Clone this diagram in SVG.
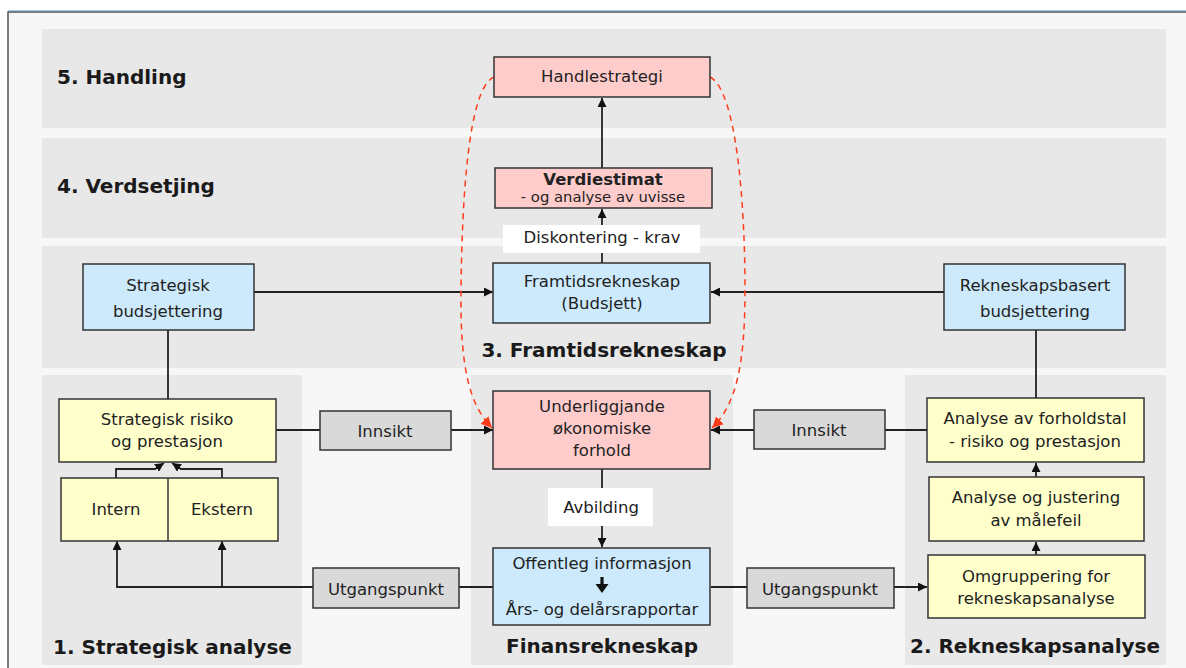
<svg xmlns="http://www.w3.org/2000/svg" width="1186" height="668" viewBox="0 0 1186 668">
<defs>
<style>
.band{fill:#e8e8e8}
.hd{font-family:"DejaVu Sans","Liberation Sans",sans-serif;font-weight:bold;font-size:20px;fill:#1a1a1a}
.t{font-family:"DejaVu Sans","Liberation Sans",sans-serif;font-size:16.5px;fill:#222;text-anchor:middle}
.pink{fill:#ffcccc;stroke:#333;stroke-width:1.5}
.blue{fill:#cceafb;stroke:#333;stroke-width:1.5}
.yel{fill:#ffffcc;stroke:#333;stroke-width:1.5}
.gray{fill:#d9d9d9;stroke:#333;stroke-width:1.5}
.lbl{fill:#ffffff}
.c{fill:none;stroke:#222;stroke-width:1.8}
.r{fill:none;stroke:#ff3b1a;stroke-width:1.5;stroke-dasharray:6 5}
</style>
<marker id="a" viewBox="0 0 10 10" refX="10" refY="5" markerWidth="9" markerHeight="9" markerUnits="userSpaceOnUse" orient="auto">
<path d="M0,0 L10,5 L0,10 z" fill="#111"/>
</marker>
<marker id="ar" viewBox="0 0 10 10" refX="10" refY="5" markerWidth="11" markerHeight="11" markerUnits="userSpaceOnUse" orient="auto">
<path d="M0,0 L10,5 L0,10 z" fill="#ff3b1a"/>
</marker>
</defs>

<rect x="0" y="0" width="1186" height="668" fill="#ffffff"/>
<rect x="8" y="12" width="1190" height="670" fill="#f7f7f7" stroke="#4a5560" stroke-width="1.5"/>
<line x1="8" y1="10.5" x2="1186" y2="10.5" stroke="#a9cbe3" stroke-width="1"/>

<g id="bands">
<rect class="band" x="42" y="29" width="1124" height="99"/>
<rect class="band" x="42" y="138" width="1124" height="100"/>
<rect class="band" x="42" y="246" width="1124" height="122"/>
<rect class="band" x="42" y="375" width="260" height="290"/>
<rect class="band" x="471" y="375" width="262" height="290"/>
<rect class="band" x="905" y="375" width="261" height="290"/>
<text class="hd" x="57" y="84">5. Handling</text>
<text class="hd" x="57" y="193">4. Verdsetjing</text>
<text class="hd" x="604" y="357" text-anchor="middle">3. Framtidsrekneskap</text>
<text class="hd" x="53" y="654">1. Strategisk analyse</text>
<text class="hd" x="602" y="653" text-anchor="middle">Finansrekneskap</text>
<text class="hd" x="1035" y="653" text-anchor="middle">2. Rekneskapsanalyse</text>
</g>

<g id="connectors">
<path class="c" d="M602,168 V98" marker-end="url(#a)"/>
<path class="c" d="M602,263 V209" marker-end="url(#a)"/>
<path class="c" d="M254,292 H493" marker-end="url(#a)"/>
<path class="c" d="M944,292 H711" marker-end="url(#a)"/>
<path class="c" d="M168,330 V399"/>
<path class="c" d="M1036,330 V398"/>
<path class="c" d="M276,430 H493" marker-end="url(#a)"/>
<path class="c" d="M927,430 H711" marker-end="url(#a)"/>
<path class="c" d="M602,469 V547" marker-end="url(#a)"/>
<path class="c" d="M493,587 H117 V541" marker-end="url(#a)"/>
<path class="c" d="M222,587 V541" marker-end="url(#a)"/>
<path class="c" d="M711,587 H927" marker-end="url(#a)"/>
<path class="c" d="M116,478 V469 H155 L164,463" marker-end="url(#a)"/>
<path class="c" d="M222,478 V469 H181 L172,463" marker-end="url(#a)"/>
<path class="c" d="M1036,555 V542" marker-end="url(#a)"/>
<path class="c" d="M1036,477 V463" marker-end="url(#a)"/>
<path class="r" d="M494,77 C468,88 462,200 461,290 C460,370 470,405 492,428" marker-end="url(#ar)"/>
<path class="r" d="M710,77 C736,90 745,200 745,290 C745,365 736,405 712,428" marker-end="url(#ar)"/>
</g>

<g id="handlestrategi">
<rect class="pink" x="494" y="57" width="216" height="40"/>
<text class="t" x="602" y="82">Handlestrategi</text>
</g>
<g id="verdiestimat">
<rect class="pink" x="495" y="168" width="217" height="40"/>
<text class="t" x="603" y="185" font-weight="bold">Verdiestimat</text>
<text class="t" x="603" y="202" style="font-size:14.8px">- og analyse av uvisse</text>
</g>
<g id="diskontering">
<rect class="lbl" x="503" y="225" width="197" height="28"/>
<text class="t" x="602" y="243">Diskontering - krav</text>
</g>
<g id="framtidsrekneskap">
<rect class="blue" x="493" y="263" width="217" height="60"/>
<text class="t" x="602" y="287">Framtidsrekneskap</text>
<text class="t" x="602" y="309">(Budsjett)</text>
</g>
<g id="strategisk-budsjettering">
<rect class="blue" x="83" y="264" width="171" height="66"/>
<text class="t" x="168" y="291">Strategisk</text>
<text class="t" x="168" y="317">budsjettering</text>
</g>
<g id="rekneskapsbasert-budsjettering">
<rect class="blue" x="944" y="264" width="181" height="66"/>
<text class="t" x="1035" y="291">Rekneskapsbasert</text>
<text class="t" x="1035" y="317">budsjettering</text>
</g>
<g id="underliggjande">
<rect class="pink" x="493" y="391" width="217" height="78"/>
<text class="t" x="602" y="412">Underliggjande</text>
<text class="t" x="602" y="434">økonomiske</text>
<text class="t" x="602" y="456">forhold</text>
</g>
<g id="avbilding">
<rect class="lbl" x="548" y="488" width="105" height="38"/>
<text class="t" x="601" y="513">Avbilding</text>
</g>
<g id="offentleg">
<rect class="blue" x="493" y="548" width="217" height="77"/>
<text class="t" x="602" y="569">Offentleg informasjon</text>
<path d="M602,577 V586" stroke="#111" stroke-width="3.2" fill="none"/>
<path d="M595.5,584 L608.5,584 L602,593 z" fill="#111"/>
<text class="t" x="602" y="615">Års- og delårsrapportar</text>
</g>
<g id="strategisk-risiko">
<rect class="yel" x="59" y="399" width="217" height="63"/>
<text class="t" x="167" y="425">Strategisk risiko</text>
<text class="t" x="167" y="447">og prestasjon</text>
</g>
<g id="intern-ekstern">
<rect class="yel" x="61" y="478" width="217" height="63"/>
<line x1="168" y1="478" x2="168" y2="541" stroke="#333" stroke-width="1.5"/>
<text class="t" x="116" y="515">Intern</text>
<text class="t" x="222" y="515">Ekstern</text>
</g>
<g id="innsikt-left">
<rect class="gray" x="320" y="411" width="131" height="39"/>
<text class="t" x="385" y="437">Innsikt</text>
</g>
<g id="innsikt-right">
<rect class="gray" x="754" y="410" width="131" height="39"/>
<text class="t" x="819" y="436">Innsikt</text>
</g>
<g id="analyse-forholdstal">
<rect class="yel" x="927" y="398" width="217" height="64"/>
<text class="t" x="1035" y="424">Analyse av forholdstal</text>
<text class="t" x="1035" y="447">- risiko og prestasjon</text>
</g>
<g id="analyse-justering">
<rect class="yel" x="929" y="477" width="215" height="64"/>
<text class="t" x="1036" y="503">Analyse og justering</text>
<text class="t" x="1036" y="526">av målefeil</text>
</g>
<g id="omgruppering">
<rect class="yel" x="928" y="555" width="217" height="63"/>
<text class="t" x="1036" y="582">Omgruppering for</text>
<text class="t" x="1036" y="604">rekneskapsanalyse</text>
</g>
<g id="utgangspunkt-left">
<rect class="gray" x="313" y="568" width="146" height="40"/>
<text class="t" x="386" y="595">Utgangspunkt</text>
</g>
<g id="utgangspunkt-right">
<rect class="gray" x="747" y="568" width="147" height="40"/>
<text class="t" x="820" y="595">Utgangspunkt</text>
</g>
</svg>
